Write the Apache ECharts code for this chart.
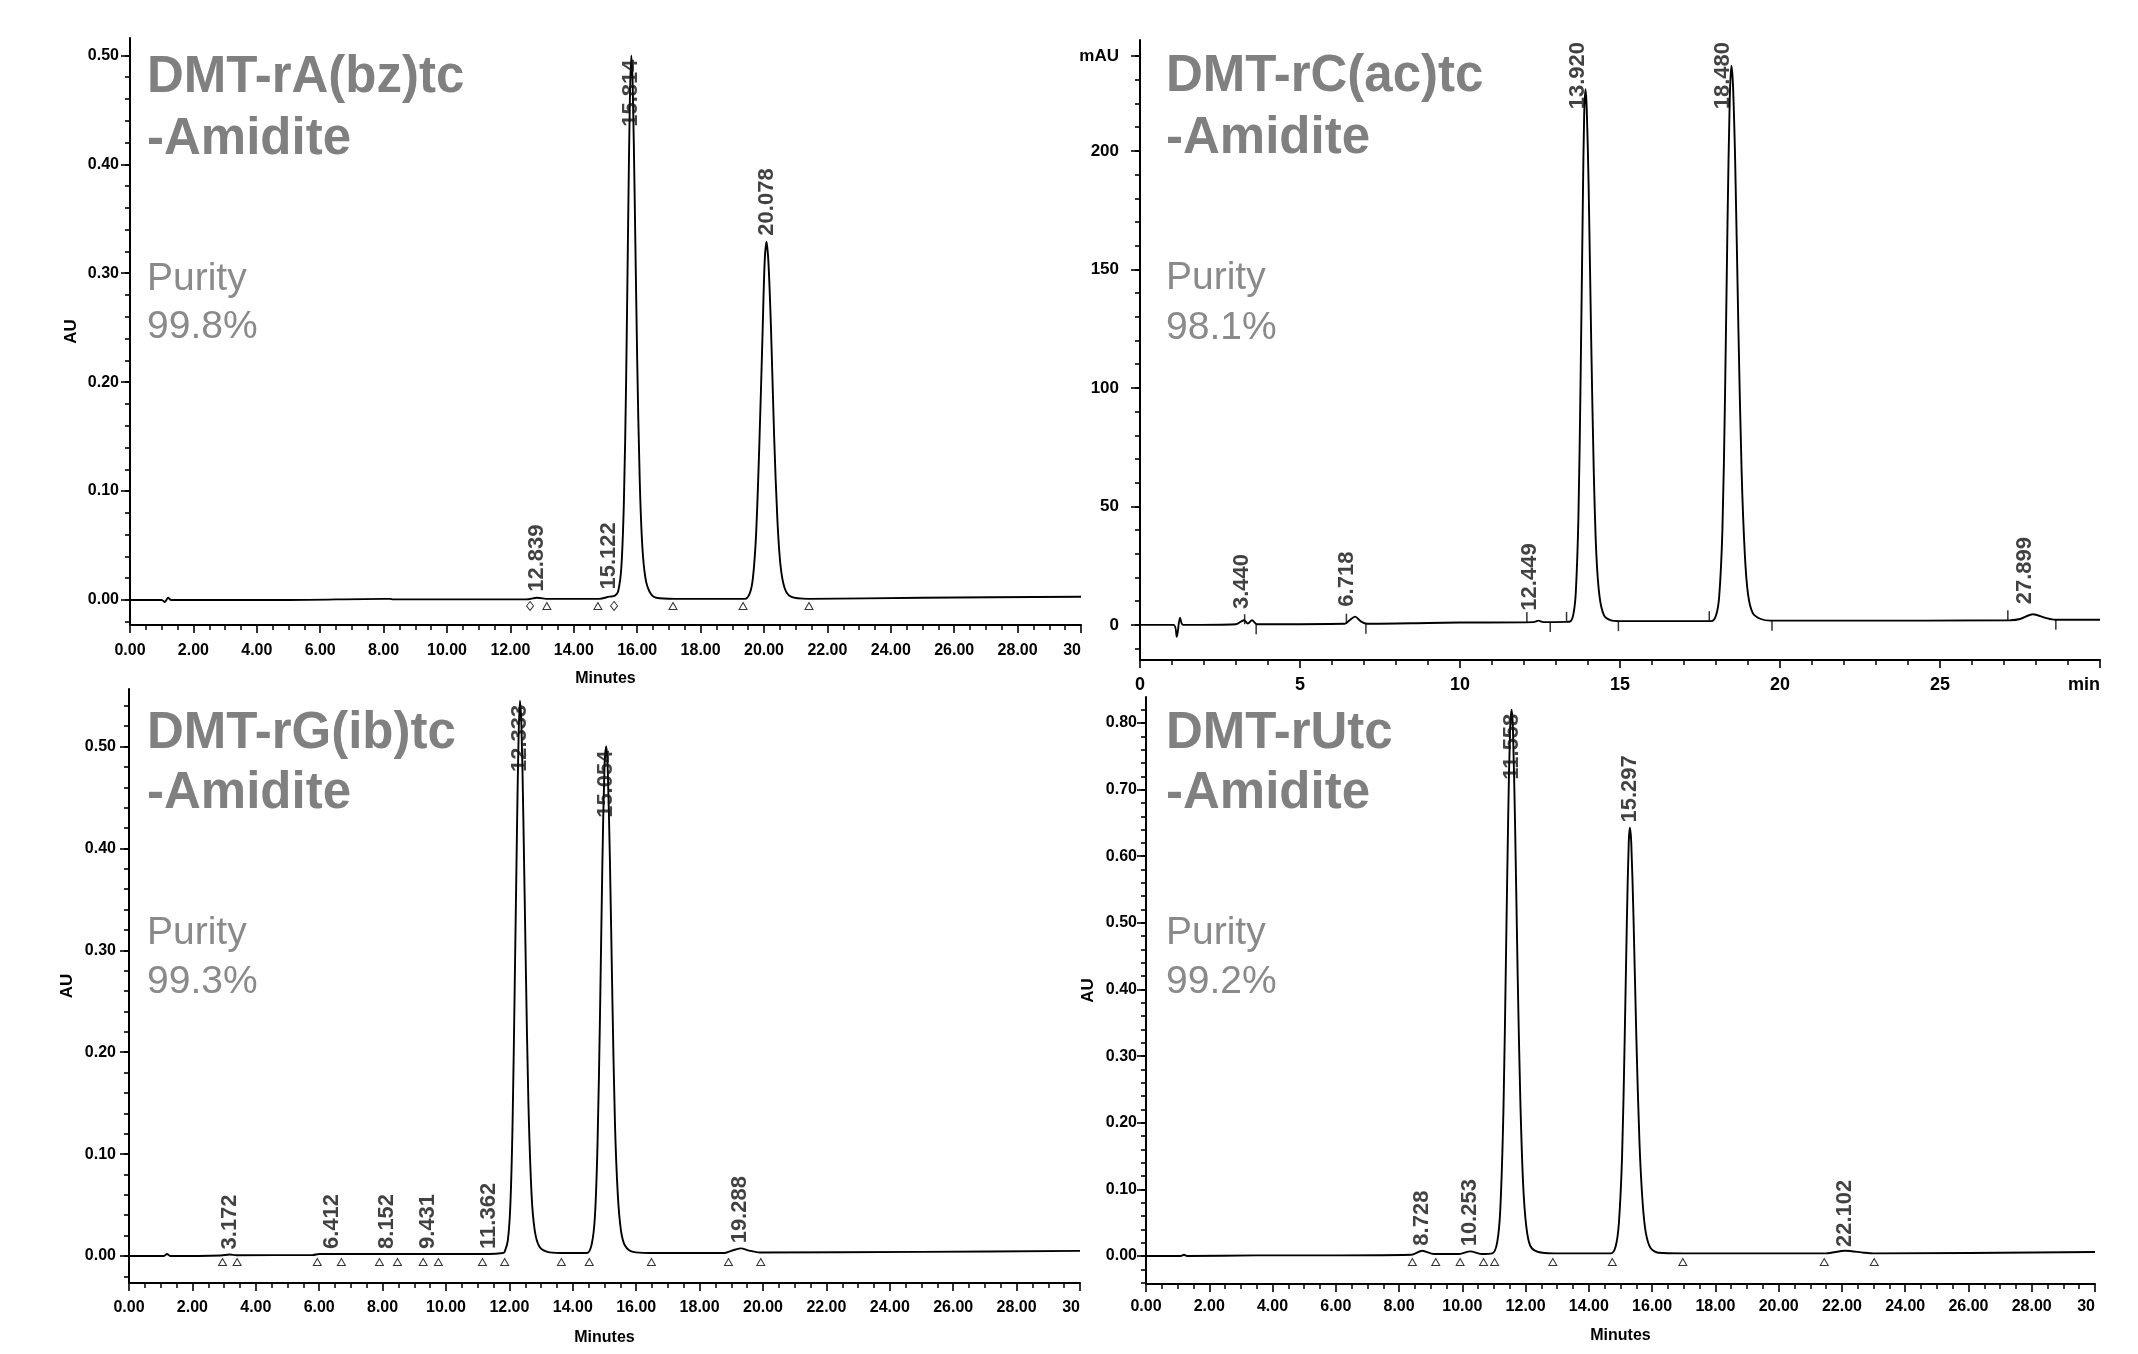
<!DOCTYPE html>
<html><head><meta charset="utf-8">
<script src="https://cdn.jsdelivr.net/npm/echarts@6/dist/echarts.min.js"></script>
<style>html,body{margin:0;padding:0;background:#fff}#c{width:2138px;height:1354px}</style>
</head><body><div id="c"></div>
<script>
// ---------------- DATA ----------------
const titleLines = [['DMT-rA(bz)tc','-Amidite'],['DMT-rC(ac)tc','-Amidite'],['DMT-rG(ib)tc','-Amidite'],['DMT-rUtc','-Amidite']];
const purityLabel = 'Purity';
const purityValues = ['99.8%','98.1%','99.3%','99.2%'];

// chromatogram traces [minutes, absorbance]
const traceA = [[0,0],[1.0,0],[1.1,-0.002],[1.2,0.002],[1.3,0],[5,0],[8.0,0.001],[8.2,0.001],[8.3,0.0005],[12.5,0.0005],[12.84,0.002],[13.2,0.001],[14.8,0.001],[15.12,0.003],[15.3,0.004],
 [15.40,0.008],[15.50,0.030],[15.58,0.09],[15.65,0.20],[15.72,0.36],[15.77,0.46],[15.814,0.500],[15.86,0.47],[15.92,0.37],[16.00,0.22],[16.08,0.11],[16.16,0.05],[16.26,0.020],[16.40,0.007],[16.60,0.002],[17.2,0.001],
 [19.40,0.001],[19.55,0.006],[19.65,0.02],[19.75,0.06],[19.85,0.14],[19.95,0.24],[20.02,0.31],[20.078,0.329],[20.14,0.31],[20.22,0.25],[20.32,0.15],[20.42,0.075],[20.52,0.032],[20.65,0.011],[20.85,0.003],[21.4,0.001],[25,0.002],[30,0.003]];
const traceC = [[0,0],[1.05,0],[1.15,-5],[1.25,3],[1.35,0],[3.0,0.3],[3.25,2],[3.37,0.6],[3.5,2],[3.65,0.3],[6.4,0.5],[6.55,2],[6.72,3.5],[6.9,1.5],[7.1,0.5],[9,0.8],[10,1.0],[12.3,1.2],[12.45,1.8],[12.6,1.2],[13.3,1.3],
 [13.45,1.5],[13.55,5],[13.62,14],[13.70,45],[13.77,105],[13.84,180],[13.88,215],[13.92,226],[13.96,218],[14.02,185],[14.10,120],[14.18,65],[14.26,30],[14.36,12],[14.50,4],[14.70,2],[15,1.6],
 [17.85,1.6],[18.0,4],[18.1,12],[18.2,40],[18.28,95],[18.36,170],[18.43,222],[18.48,236],[18.53,228],[18.60,195],[18.70,125],[18.80,65],[18.90,30],[19.0,13],[19.15,5],[19.4,2.5],[19.7,1.8],[22,1.8],[27.2,2],[27.5,2.5],[27.9,4.5],[28.3,3],[28.6,2.2],[30,2.2]];
const traceG = [[0,0],[1.1,0],[1.2,0.002],[1.3,0],[2.9,0.0005],[3.17,0.0015],[3.4,0.0008],[5.8,0.001],[6.0,0.002],[6.41,0.002],[6.7,0.002],[8.15,0.002],[9.43,0.002],[11.36,0.002],[11.8,0.003],
 [11.85,0.004],[11.95,0.015],[12.03,0.05],[12.10,0.13],[12.17,0.27],[12.24,0.42],[12.29,0.51],[12.333,0.545],[12.38,0.52],[12.44,0.43],[12.52,0.28],[12.60,0.15],[12.70,0.06],[12.80,0.025],[12.95,0.009],[13.2,0.004],[13.6,0.003],
 [14.45,0.003],[14.6,0.012],[14.7,0.04],[14.78,0.11],[14.86,0.24],[14.93,0.38],[15.0,0.48],[15.054,0.50],[15.10,0.48],[15.17,0.39],[15.25,0.25],[15.33,0.13],[15.42,0.06],[15.52,0.025],[15.65,0.01],[15.9,0.004],[16.4,0.003],
 [18.8,0.003],[19.0,0.005],[19.29,0.0075],[19.6,0.005],[19.9,0.0035],[25,0.004],[30,0.005]];
const traceU = [[0,0],[1.1,0],[1.2,0.002],[1.3,0],[3.5,0.001],[5,0.001],[8.4,0.002],[8.73,0.008],[9.1,0.003],[9.9,0.003],[10.25,0.007],[10.6,0.003],
 [10.95,0.004],[11.1,0.02],[11.2,0.07],[11.3,0.22],[11.38,0.45],[11.45,0.66],[11.51,0.79],[11.558,0.82],[11.60,0.79],[11.67,0.64],[11.75,0.42],[11.83,0.24],[11.92,0.11],[12.02,0.045],[12.15,0.015],[12.4,0.006],[12.9,0.004],
 [14.7,0.004],[14.85,0.015],[14.95,0.05],[15.05,0.15],[15.13,0.32],[15.20,0.50],[15.26,0.62],[15.297,0.643],[15.34,0.62],[15.41,0.51],[15.50,0.33],[15.60,0.17],[15.70,0.08],[15.80,0.035],[15.95,0.012],[16.2,0.005],[17,0.004],
 [21.5,0.004],[22.1,0.008],[22.7,0.005],[23,0.004],[30,0.006]];

// labelled peaks [retention time, apex height]
const peaksA = [[12.839,0.002],[15.122,0.004],[15.814,0.500],[20.078,0.329]];
const peaksC = [[3.440,2.5],[6.718,3.5],[12.449,1.8],[13.920,226],[18.480,236],[27.899,4.5]];
const peaksG = [[3.172,0.0015],[6.412,0.002],[8.152,0.002],[9.431,0.002],[11.362,0.002],[12.333,0.545],[15.054,0.500],[19.288,0.0075]];
const peaksU = [[8.728,0.008],[10.253,0.007],[11.558,0.82],[15.297,0.643],[22.102,0.006]];

// integration marks on the baseline (minutes)
const triA = [13.15,14.76,17.13,19.34,21.42];
const diaA = [12.62,15.27];
const triG = [2.95,3.41,5.94,6.70,7.90,8.47,9.28,9.76,11.15,11.85,13.64,14.52,16.48,18.91,19.93];
const triU = [8.42,9.16,9.93,10.67,11.02,12.86,14.74,16.97,21.44,23.02];
const evtUpC = [[3.27,0.3],[6.45,0.5],[12.09,1.2],[13.33,1.3],[17.79,1.6],[27.12,2.0]];
const evtDownC = [[3.63,0.3],[7.06,0.5],[12.82,1.2],[14.95,1.6],[19.75,1.8],[28.62,2.2]];

// axis tick labels
const yLabelsAU5 = [0,0.1,0.2,0.3,0.4,0.5];
const yLabelsAU8 = [0,0.1,0.2,0.3,0.4,0.5,0.6,0.7,0.8];
const yLabelsMAU = [0,50,100,150,200,240];
const yUnitMAU = 'mAU';
const xAxisName = 'Minutes';
const yAxisName = 'AU';

// ---------------- LAYOUT ----------------
const FONT = '"Liberation Sans", Arial, sans-serif';
const panels = [
 {grid:{left:130,top:38,width:951,height:587}, y:{min:-0.023,max:0.516}, ylab:yLabelsAU5, tickMin:-0.02, tickTop:0.5, tickStep:0.02, dec:2,
  xInt:2, xMinor:4, trace:traceA, peaks:peaksA, mode:'apex', gap:6, dx:0, yName:yAxisName, yNameGap:50, xName:xAxisName, xNameGap:46, xMargin:18, yMargin:11,
  tri:triA, dia:diaA, title:{x:147,y1:78,y2:140,py1:279,py2:327}},
 {grid:{left:1140,top:40,width:960,height:620}, y:{min:-14.8,max:246.8}, ylab:yLabelsMAU, tickMin:-10, tickTop:240, tickStep:10, dec:0,
  xInt:5, xMinor:5, trace:traceC, peaks:peaksC, mode:'clamp', gap:10, dx:-8, yName:'', xName:'', xMargin:16, yMargin:21,
  tri:[], dia:[], title:{x:1166,y1:77,y2:139,py1:278,py2:328}},
 {grid:{left:129,top:689,width:951,height:594}, y:{min:-0.0265,max:0.5565}, ylab:yLabelsAU5, tickMin:-0.02, tickTop:0.54, tickStep:0.02, dec:2,
  xInt:2, xMinor:4, trace:traceG, peaks:peaksG, mode:'apex', gap:5, dx:0, yName:yAxisName, yNameGap:53, xName:xAxisName, xNameGap:47, xMargin:17, yMargin:13,
  tri:triG, dia:[], title:{x:147,y1:734,y2:794,py1:933,py2:982}},
 {grid:{left:1146,top:697,width:949,height:587}, y:{min:-0.042,max:0.839}, ylab:yLabelsAU8, tickMin:-0.04, tickTop:0.82, tickStep:0.02, dec:2,
  xInt:2, xMinor:4, trace:traceU, peaks:peaksU, mode:'apex', gap:5, dx:0, yName:yAxisName, yNameGap:49, xName:xAxisName, xNameGap:44, xMargin:15, yMargin:9,
  tri:triU, dia:[], title:{x:1166,y1:734,y2:794,py1:933,py2:982}}
];

const measureCtx = document.createElement('canvas').getContext('2d');
measureCtx.font = 'bold 22px "Liberation Sans"';

const grids=[], xAxes=[], yAxes=[], series=[], graphics=[];
panels.forEach((p,i)=>{
  const ppu = p.grid.height/(p.y.max-p.y.min);
  const ppx = p.grid.width/30;
  grids.push(Object.assign({outerBoundsMode:'none', containLabel:false}, p.grid));
  const lastLbl = i===1 ? 'min' : '30';
  xAxes.push({type:'value', gridIndex:i, min:0, max:30, interval:p.xInt,
    axisLine:{onZero:false, lineStyle:{color:'#000', width:2}},
    axisTick:{show:true, length:8, lineStyle:{color:'#000', width:1.6}},
    minorTick:{show:true, splitNumber:p.xMinor, length:5, lineStyle:{color:'#000', width:1.5}},
    splitLine:{show:false}, minorSplitLine:{show:false},
    axisLabel:{margin:p.xMargin, color:'#000', fontFamily:FONT, fontWeight:'bold', fontSize: i===1?18:16,
      alignMaxLabel:'right',
      formatter:v=> v===30 ? lastLbl : (i===1 ? String(v) : v.toFixed(2))},
    name:p.xName, nameLocation:'middle', nameGap:p.xNameGap,
    nameTextStyle:{color:'#000', fontFamily:FONT, fontWeight:'bold', fontSize:16}});
  yAxes.push({type:'value', gridIndex:i, position:'left', min:p.y.min, max:p.y.max,
    axisLine:{show:true, onZero:false, lineStyle:{color:'#000', width:2}},
    axisTick:{show:true, length:9, customValues:p.ylab, lineStyle:{color:'#000', width:1.6}},
    axisLabel:{show:true, customValues:p.ylab, margin:p.yMargin, color:'#000', fontFamily:FONT, fontWeight:'bold', fontSize: i===1?17:16,
      formatter:v=> (i===1 ? (v===240 ? yUnitMAU : String(v)) : v.toFixed(p.dec))},
    splitLine:{show:false},
    name:p.yName, nameLocation:'middle', nameGap:p.yNameGap||0, nameRotate:90,
    nameTextStyle:{color:'#000', fontFamily:FONT, fontWeight:'bold', fontSize:17}});
  const yIdx = yAxes.length-1;
  series.push({type:'line', xAxisIndex:i, yAxisIndex:yIdx, data:p.trace, showSymbol:false, smooth:0.3,
    lineStyle:{color:'#000', width:1.9}, z:3, silent:true});
  // peak labels
  const lblData = p.peaks.map(([t,h])=>{
    const txt = t.toFixed(3);
    const len = measureCtx.measureText(txt).width;
    let bottom = h + p.gap/ppu;
    if (bottom + len/ppu > p.y.max) {
      bottom = p.mode==='apex' ? h - (4+len)/ppu : p.y.max - (2+len)/ppu;
    }
    return {value:[t + p.dx/ppx, bottom], name:txt};
  });
  series.push({type:'scatter', xAxisIndex:i, yAxisIndex:yIdx, data:lblData, symbolSize:0.1,
    itemStyle:{color:'rgba(0,0,0,0)'}, z:5, silent:true,
    label:{show:true, formatter:d=>d.name, rotate:90, position:'inside', align:'left', verticalAlign:'middle',
      fontSize:22, fontWeight:'bold', fontFamily:FONT, color:'#111'}});
  if(p.tri.length) series.push({type:'scatter', xAxisIndex:i, yAxisIndex:yIdx, data:p.tri.map(t=>[t,0]), symbol:'triangle', symbolSize:[8,7], symbolOffset:[0,6],
    itemStyle:{color:'#fff', borderColor:'#000', borderWidth:1}, z:4, silent:true});
  if(p.dia.length) series.push({type:'scatter', xAxisIndex:i, yAxisIndex:yIdx, data:p.dia.map(t=>[t,0]), symbol:'diamond', symbolSize:[7,9], symbolOffset:[0,6],
    itemStyle:{color:'#fff', borderColor:'#000', borderWidth:1}, z:4, silent:true});
  if(i===1){
    series.push({type:'scatter', xAxisIndex:i, yAxisIndex:yIdx, data:evtUpC, symbol:'rect', symbolSize:[1.5,10], symbolOffset:[0,-5], itemStyle:{color:'#000'}, z:4, silent:true});
    series.push({type:'scatter', xAxisIndex:i, yAxisIndex:yIdx, data:evtDownC, symbol:'rect', symbolSize:[1.5,10], symbolOffset:[0,5], itemStyle:{color:'#000'}, z:4, silent:true});
  }
  // text blocks
  const tt=p.title;
  graphics.push({type:'text', z:10, style:{text:titleLines[i][0], x:tt.x, y:tt.y1, verticalAlign:'middle', font:'bold 51px '+FONT, fill:'#808080'}});
  graphics.push({type:'text', z:10, style:{text:titleLines[i][1], x:tt.x, y:tt.y2, verticalAlign:'middle', font:'bold 51px '+FONT, fill:'#808080'}});
  graphics.push({type:'text', z:10, style:{text:purityLabel, x:tt.x, y:tt.py1, verticalAlign:'middle', font:'39px '+FONT, fill:'#8a8a8a'}});
  graphics.push({type:'text', z:10, style:{text:purityValues[i], x:tt.x, y:tt.py2, verticalAlign:'middle', font:'39px '+FONT, fill:'#8a8a8a'}});
});

// minor-tick grids: one empty grid per panel spanning tickMin..tickTop of the value scale, used only for its small ticks
panels.forEach((p,i)=>{
  const ppu = p.grid.height/(p.y.max-p.y.min);
  const gi = grids.length;
  grids.push({outerBoundsMode:'none', containLabel:false, left:p.grid.left, width:p.grid.width,
    top: p.grid.top + (p.y.max - p.tickTop)*ppu, height: (p.tickTop - p.tickMin)*ppu});
  xAxes.push({type:'value', gridIndex:gi, min:0, max:30, show:false});
  yAxes.push({type:'value', gridIndex:gi, position:'left', min:p.tickMin, max:p.tickTop, interval:p.tickStep,
    axisLine:{show:false}, axisLabel:{show:false}, splitLine:{show:false},
    axisTick:{show:true, length:5, lineStyle:{color:'#000', width:1.6}}});
});

const chart = echarts.init(document.getElementById('c'), null, {renderer:'canvas', width:2138, height:1354});
chart.setOption({animation:false, backgroundColor:'#fff', grid:grids, xAxis:xAxes, yAxis:yAxes, series:series, graphic:graphics});
</script></body></html>
